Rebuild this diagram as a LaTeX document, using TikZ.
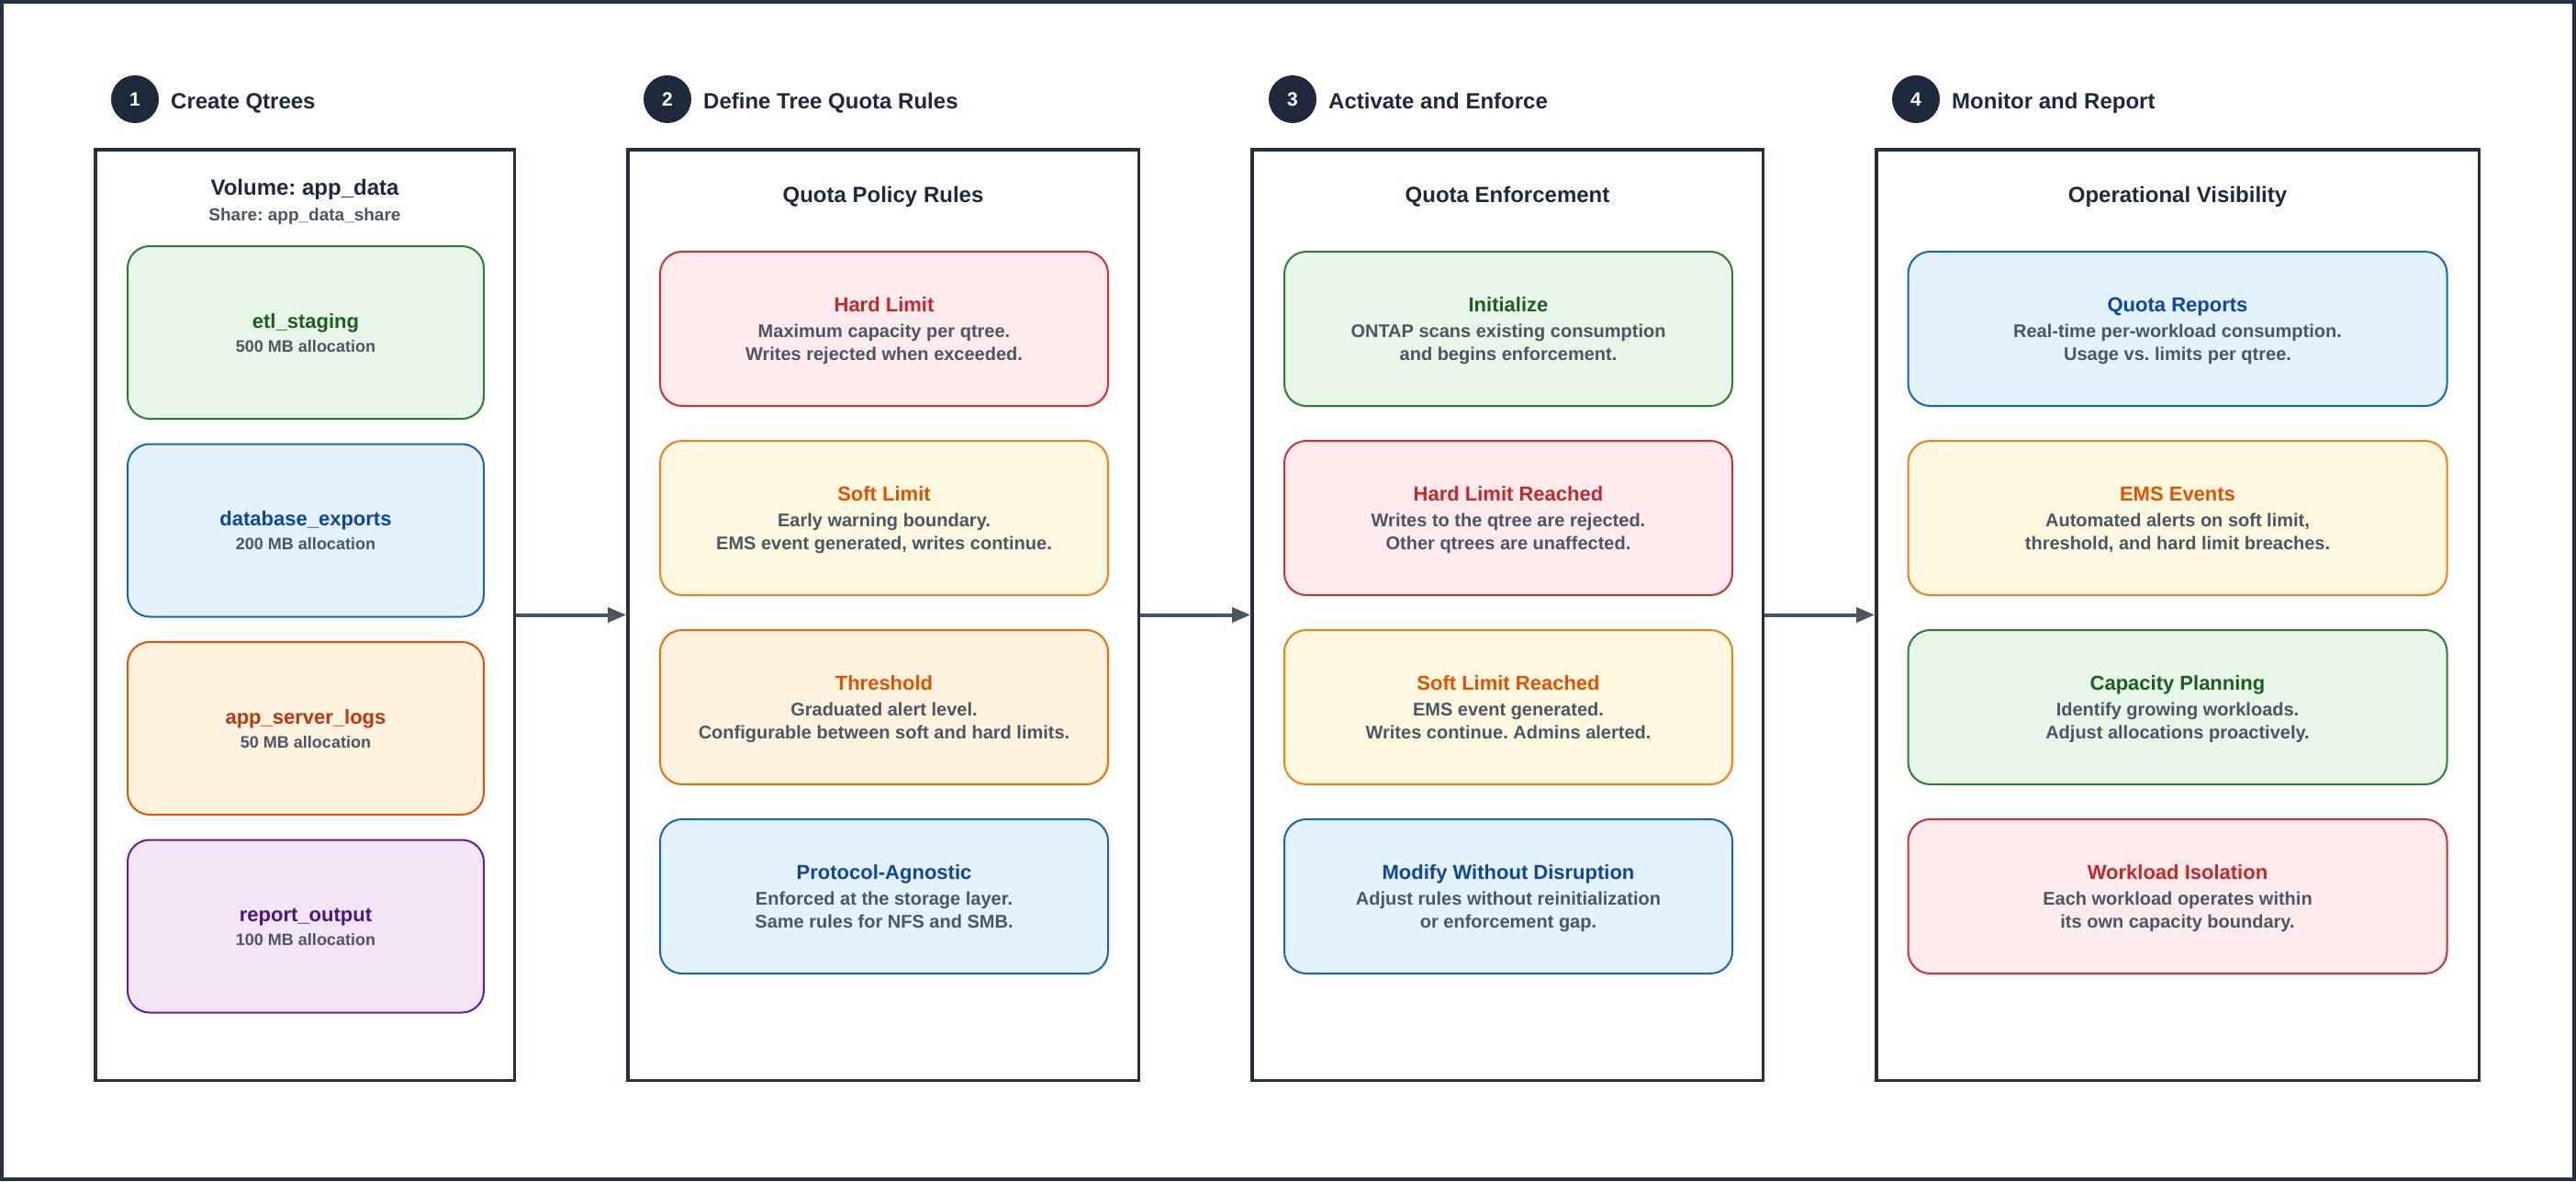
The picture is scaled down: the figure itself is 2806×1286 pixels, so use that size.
\documentclass[tikz,border=0pt]{standalone}
\usepackage{fontspec}
\setmainfont{Liberation Sans}
\usetikzlibrary{arrows.meta,calc}
\frenchspacing
\definecolor{frameC}{HTML}{243040}
\definecolor{darkT}{HTML}{1E293B}
\definecolor{grayT}{HTML}{4B5563}
\definecolor{arrC}{HTML}{4A5563}
\definecolor{grnF}{HTML}{E8F5E9}\definecolor{grnD}{HTML}{2E7D32}\definecolor{grnT}{HTML}{1B5E20}
\definecolor{bluF}{HTML}{E3F2FD}\definecolor{bluD}{HTML}{1565C0}\definecolor{bluT}{HTML}{0D47A1}
\definecolor{redF}{HTML}{FFEBEE}\definecolor{redD}{HTML}{D32F2F}\definecolor{redT}{HTML}{C62828}
\definecolor{ylwF}{HTML}{FFF8E1}\definecolor{ylwD}{HTML}{F57F17}\definecolor{ylwT}{HTML}{E65100}
\definecolor{orgF}{HTML}{FFF3E0}\definecolor{orgD}{HTML}{EF6C00}\definecolor{orgT}{HTML}{E65100}
\definecolor{ornF}{HTML}{FFF3E0}\definecolor{ornD}{HTML}{E65100}\definecolor{ornT}{HTML}{BF360C}
\definecolor{purF}{HTML}{F3E5F5}\definecolor{purD}{HTML}{6A1B9A}\definecolor{purT}{HTML}{4A148C}

% name, cx, top, width, height, palette, title, line1, line2
\newcommand\rulebox[9]{%
  \node[qbox, fill=#6F, draw=#6D, minimum width=#4, minimum height=#5, anchor=north] (#1) at (#2,#3) {};
  \node[btitle, text=#6T, anchor=base] (#1t) at ($(#1.north)+(0,66)$) {#7};
  \node[bdesc, anchor=base] (#1a) at ($(#1.north)+(0,94)$) {#8};
  \node[bdesc, anchor=base] (#1b) at ($(#1.north)+(0,119)$) {#9};
}
% name, top, palette, title, sub
\newcommand\treebox[5]{%
  \node[qbox, fill=#3F, draw=#3D, minimum width=388, minimum height=188, anchor=north] (#1) at (333,#2) {};
  \node[btitle, text=#3T, anchor=base] (#1t) at ($(#1.north)+(0,90)$) {#4};
  \node[bsub, anchor=base] (#1a) at ($(#1.north)+(0,116)$) {#5};
}

\begin{document}
\begin{tikzpicture}[x=1pt,y=-1pt,
  panel/.style={draw=frameC, line width=3.5pt, fill=white, inner sep=0, minimum height=1013.5},
  qbox/.style={rounded corners=24pt, line width=2pt, inner sep=0},
  btitle/.style={inner sep=0, font=\bfseries\fontsize{22}{26}\selectfont},
  bdesc/.style={inner sep=0, text=grayT, font=\bfseries\fontsize{20}{24}\selectfont},
  bsub/.style={inner sep=0, text=grayT, font=\bfseries\fontsize{18}{22}\selectfont},
  ptitle/.style={inner sep=0, text=darkT, font=\bfseries\fontsize{24}{28}\selectfont},
  stepnum/.style={circle, fill=darkT, minimum size=52, inner sep=0, text=white, font=\bfseries\fontsize{21}{24}\selectfont},
  steplabel/.style={inner sep=0, text=darkT, font=\bfseries\fontsize{24}{28}\selectfont},
  arr/.style={draw=arrC, line width=4pt, -{Triangle[length=20pt,width=16pt]}}
]
\useasboundingbox (0,0) rectangle (2806,1286);
\fill[white] (0,0) rectangle (2806,1286);
\draw[draw=frameC, line width=4pt] (2,2) rectangle (2804,1284);

% step headers
\node[stepnum] (c1) at (147,108) {1};
\node[steplabel, anchor=base west] (s1) at (186,118) {Create Qtrees};
\node[stepnum] (c2) at (727,108) {2};
\node[steplabel, anchor=base west] (s2) at (766,118) {Define Tree Quota Rules};
\node[stepnum] (c3) at (1408,108) {3};
\node[steplabel, anchor=base west] (s3) at (1447,118) {Activate and Enforce};
\node[stepnum] (c4) at (2087,108) {4};
\node[steplabel, anchor=base west] (s4) at (2126,118) {Monitor and Report};

% panels
\node[panel, minimum width=456.5] (p1) at (332,669.5) {};
\node[panel, minimum width=556.5] (p2) at (962,669.5) {};
\node[panel, minimum width=556.5] (p3) at (1642,669.5) {};
\node[panel, minimum width=656.5] (p4) at (2372,669.5) {};

% panel titles
\node[ptitle, anchor=base] (p1t) at (332,212) {Volume: app\_data};
\node[bdesc, anchor=base, font=\bfseries\fontsize{19}{23}\selectfont] (p1s) at (332,240) {Share: app\_data\_share};
\node[ptitle, anchor=base] (p2t) at (962,220) {Quota Policy Rules};
\node[ptitle, anchor=base] (p3t) at (1642,220) {Quota Enforcement};
\node[ptitle, anchor=base] (p4t) at (2372,220) {Operational Visibility};

% panel 1 boxes
\treebox{q1}{267}{grn}{etl\_staging}{500 MB allocation}
\treebox{q2}{482.5}{blu}{database\_exports}{200 MB allocation}
\treebox{q3}{698}{orn}{app\_server\_logs}{50 MB allocation}
\treebox{q4}{913.5}{pur}{report\_output}{100 MB allocation}

% panel 2 boxes
\rulebox{r1}{963}{273}{488}{168}{red}{Hard Limit}{Maximum capacity per qtree.}{Writes rejected when exceeded.}
\rulebox{r2}{963}{479}{488}{168}{ylw}{Soft Limit}{Early warning boundary.}{EMS event generated, writes continue.}
\rulebox{r3}{963}{685}{488}{168}{org}{Threshold}{Graduated alert level.}{Configurable between soft and hard limits.}
\rulebox{r4}{963}{891}{488}{168}{blu}{Protocol-Agnostic}{Enforced at the storage layer.}{Same rules for NFS and SMB.}

% panel 3 boxes
\rulebox{e1}{1643}{273}{488}{168}{grn}{Initialize}{ONTAP scans existing consumption}{and begins enforcement.}
\rulebox{e2}{1643}{479}{488}{168}{red}{Hard Limit Reached}{Writes to the qtree are rejected.}{Other qtrees are unaffected.}
\rulebox{e3}{1643}{685}{488}{168}{ylw}{Soft Limit Reached}{EMS event generated.}{Writes continue. Admins alerted.}
\rulebox{e4}{1643}{891}{488}{168}{blu}{Modify Without Disruption}{Adjust rules without reinitialization}{or enforcement gap.}

% panel 4 boxes
\rulebox{m1}{2372}{273}{587}{168}{blu}{Quota Reports}{Real-time per-workload consumption.}{Usage vs. limits per qtree.}
\rulebox{m2}{2372}{479}{587}{168}{ylw}{EMS Events}{Automated alerts on soft limit,}{threshold, and hard limit breaches.}
\rulebox{m3}{2372}{685}{587}{168}{grn}{Capacity Planning}{Identify growing workloads.}{Adjust allocations proactively.}
\rulebox{m4}{2372}{891}{587}{168}{red}{Workload Isolation}{Each workload operates within}{its own capacity boundary.}

% arrows
\draw[arr] (p1.east) -- (p2.west);
\draw[arr] (p2.east) -- (p3.west);
\draw[arr] (p3.east) -- (p4.west);
\end{tikzpicture}
\end{document}
